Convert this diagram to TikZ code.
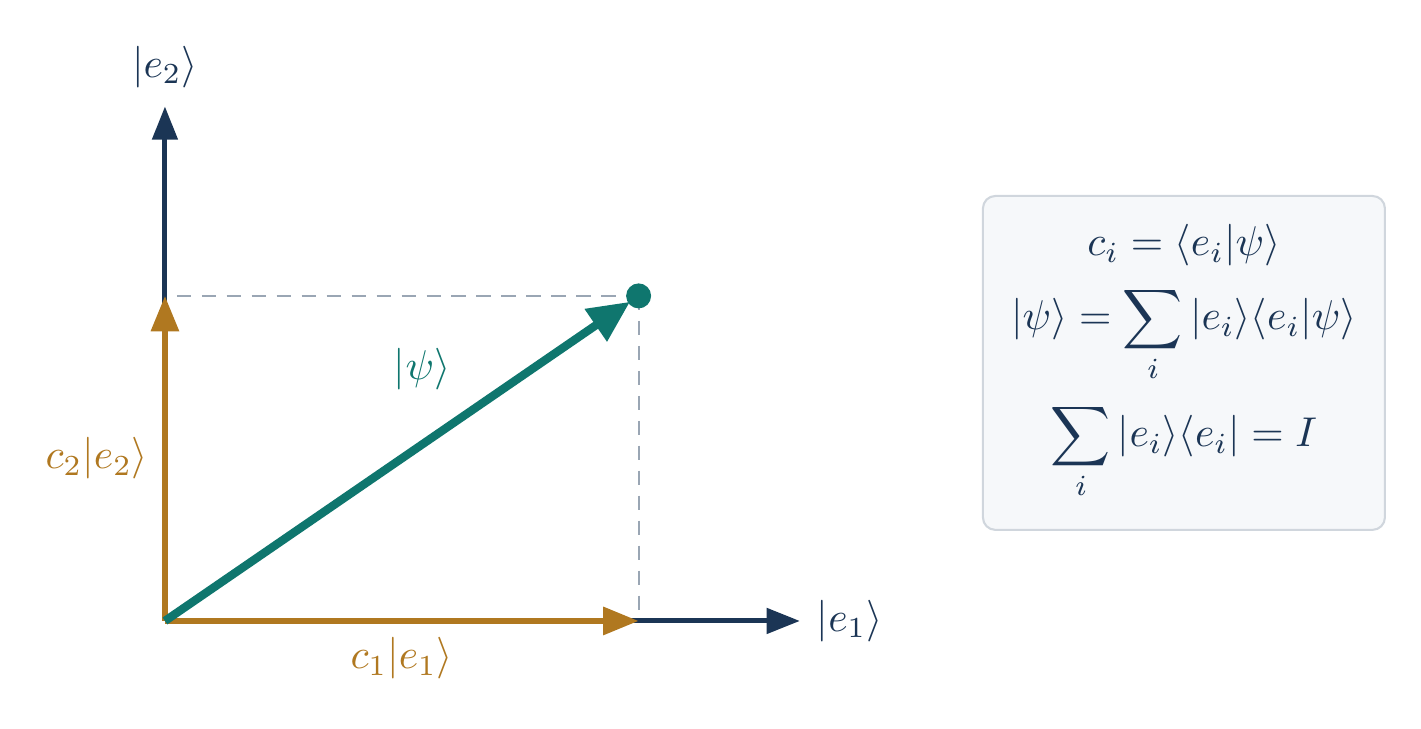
\documentclass[tikz,border=0pt]{standalone}
\usetikzlibrary{positioning, arrows.meta, calc}

\definecolor{navy}{HTML}{1B3555}
\definecolor{gold}{HTML}{B07820}
\definecolor{psiteal}{HTML}{0F766E}
\definecolor{guidegray}{HTML}{9AA6B4}
\definecolor{boxfill}{HTML}{F6F8FA}
\definecolor{boxborder}{HTML}{D0D6DD}

\begin{document}
\begin{tikzpicture}[
    axis/.style={draw=navy, line width=1.2pt, -{Triangle[length=8pt, width=6pt]}},
    comp/.style={draw=gold, line width=1.4pt, -{Triangle[length=8.5pt, width=6.5pt]}},
    state/.style={draw=psiteal, line width=2pt, -{Triangle[length=10pt, width=9pt]}, shorten >=2.5pt},
    guide/.style={draw=guidegray, line width=0.5pt, dash pattern=on 3.5pt off 2.5pt},
    infobox/.style={rectangle, draw=boxborder, line width=0.5pt, fill=boxfill, rounded corners=3pt, minimum width=3.395cm, minimum height=2.82cm},
    relation/.style={anchor=base, inner sep=0pt},
    every node/.style={text=navy}
]
\useasboundingbox (-1.393,-0.904) rectangle (10.607,5.244);

% Points
\coordinate (O) at (0,0);
\coordinate (E1) at (5.362,0);
\coordinate (E2) at (0,4.345);
\coordinate (P) at (4,2.745);
\coordinate (Px) at (P |- O);
\coordinate (Py) at (P -| O);

% Projections
\draw[guide] ($(Py)+(0.1,0)$) -- (P);
\draw[guide] (P) -- (Px);

% Basis
\draw[axis] (O) -- (E1);
\draw[axis] (O) -- (E2);
\node[right=0.5pt of E1] (e1lab) {$|e_1\rangle$};
\node[above=1pt of E2] (e2lab) {$|e_2\rangle$};

% Components
\draw[comp] (O) -- (Px) node[midway, below, text=gold] (c1lab) {$c_1|e_1\rangle$};
\draw[comp] (O) -- (Py) node[midway, left, text=gold] (c2lab) {$c_2|e_2\rangle$};

% State vector
\draw[state] (O) -- (P) node[pos=0.543, above=0.31cm, text=psiteal] (psilab) {$|\psi\rangle$};
\fill[psiteal] (P) circle (3pt);

% Relations
\node[infobox] (box) at (8.605,2.179) {};
\node[relation] (rel1) at ($(box.center)+(0,0.904)$) {$c_i = \langle e_i|\psi\rangle$};
\node[relation] (rel2) at ($(box.center)+(0,0.279)$) {$|\psi\rangle = \displaystyle\sum_i |e_i\rangle\langle e_i|\psi\rangle$};
\node[relation] (rel3) at ($(box.center)+(0,-0.709)$) {$\displaystyle\sum_i |e_i\rangle\langle e_i| = I$};

\end{tikzpicture}
\end{document}
